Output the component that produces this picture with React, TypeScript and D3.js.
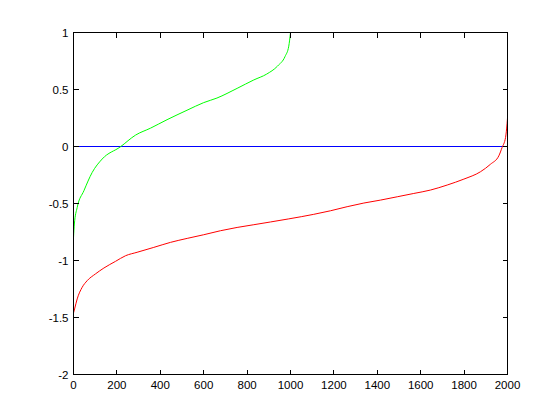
import React from "react";
import * as d3 from "d3";

const xTicks = [0, 200, 400, 600, 800, 1000, 1200, 1400, 1600, 1800, 2000];
const yTicks = [-2, -1.5, -1, -0.5, 0, 0.5, 1];
const yTickLabels = ["-2", "-1.5", "-1", "-0.5", "0", "0.5", "1"];

const greenX = [0, 4, 17, 48, 86, 132, 216, 286, 355, 431, 523, 600, 661, 754, 831, 890, 940, 975, 992, 1000];
const greenY = [-0.8, -0.68, -0.535, -0.388, -0.228, -0.11, -0.003, 0.1, 0.161, 0.235, 0.318, 0.385, 0.425, 0.51, 0.584, 0.635, 0.705, 0.79, 0.88, 1.0];

const redX = [0, 5, 17, 40, 63, 101, 140, 194, 240, 293, 370, 447, 524, 600, 677, 754, 831, 908, 992, 1107, 1184, 1261, 1338, 1415, 1492, 1568, 1645, 1722, 1799, 1875, 1922, 1960, 1975, 1991, 1998, 2000];
const redY = [-1.46, -1.425, -1.337, -1.235, -1.177, -1.118, -1.066, -1.007, -0.958, -0.928, -0.885, -0.841, -0.806, -0.774, -0.739, -0.71, -0.686, -0.662, -0.635, -0.595, -0.564, -0.528, -0.496, -0.47, -0.441, -0.412, -0.382, -0.338, -0.286, -0.222, -0.155, -0.082, -0.009, 0.079, 0.2, 0.25];

const blueX = [0, 2000];
const blueY = [0, 0];

const W = 560;
const H = 420;
const L = 73.5, R = 507.5, T = 32.5, B = 374.5;

export default function App() {
  const x = d3.scaleLinear().domain([0, 2000]).range([L, R]);
  const y = d3.scaleLinear().domain([-2, 1]).range([B, T]);
  const line = d3
    .line<[number, number]>()
    .x((d) => x(d[0]))
    .y((d) => y(d[1]))
    .curve(d3.curveMonotoneX);
  const zip = (a: number[], b: number[]) => a.map((v, i) => [v, b[i]] as [number, number]);
  const font = "'Liberation Sans', Arial, Helvetica, sans-serif";
  const tl = 5;
  return (
    <svg
      width={W}
      height={H}
      style={{ position: "absolute", left: 0, top: 0, background: "#fff" }}
    >
      <rect x={0} y={0} width={W} height={H} fill="#fff" />
      <path d={line(zip(blueX, blueY)) || ""} fill="none" stroke="#0000ff" strokeWidth={1} shapeRendering="crispEdges" />
      <path d={line(zip(greenX, greenY)) || ""} fill="none" stroke="#00ff00" strokeWidth={1} />
      <path d={line(zip(redX, redY)) || ""} fill="none" stroke="#ff0000" strokeWidth={1} />
      <g shapeRendering="crispEdges" stroke="#000" strokeWidth={1}>
        <rect x={L} y={T} width={R - L} height={B - T} fill="none" />
        {xTicks.map((t) => (
          <g key={"x" + t}>
            <line x1={Math.round(x(t) - 0.5) + 0.5} x2={Math.round(x(t) - 0.5) + 0.5} y1={B} y2={B - tl} />
            <line x1={Math.round(x(t) - 0.5) + 0.5} x2={Math.round(x(t) - 0.5) + 0.5} y1={T} y2={T + tl} />
          </g>
        ))}
        {yTicks.map((t) => (
          <g key={"y" + t}>
            <line x1={L} x2={L + tl} y1={Math.round(y(t) - 0.5) + 0.5} y2={Math.round(y(t) - 0.5) + 0.5} />
            <line x1={R} x2={R - tl} y1={Math.round(y(t) - 0.5) + 0.5} y2={Math.round(y(t) - 0.5) + 0.5} />
          </g>
        ))}
      </g>
      <g fontFamily={font} fontSize={11.5} fill="#000">
        {xTicks.map((t) => (
          <text key={"xl" + t} x={x(t)} y={389} textAnchor="middle">
            {String(t)}
          </text>
        ))}
        {yTicks.map((t, i) => (
          <text key={"yl" + t} x={68.5} y={y(t) + 4} textAnchor="end">
            {yTickLabels[i]}
          </text>
        ))}
      </g>
    </svg>
  );
}
